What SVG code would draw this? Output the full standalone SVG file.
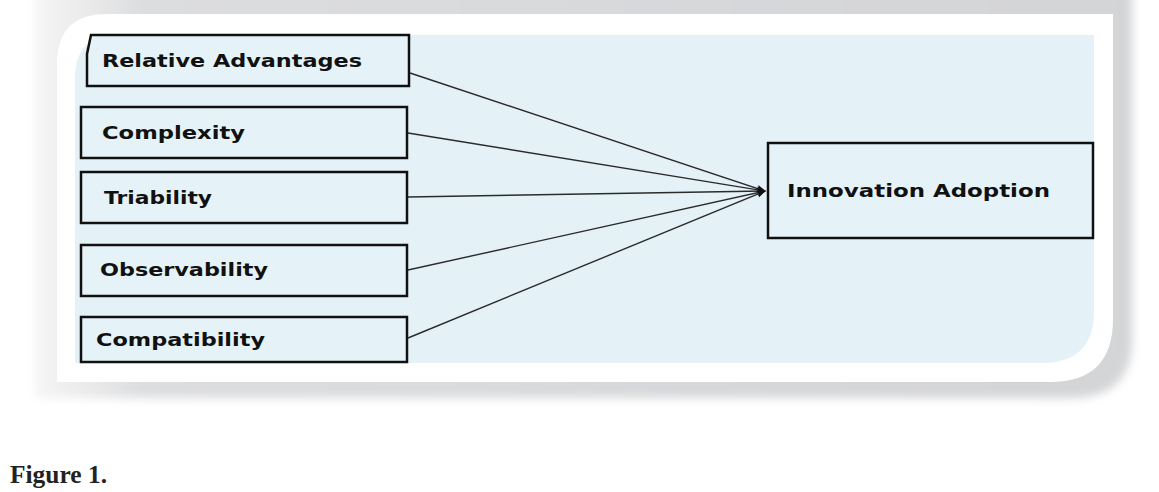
<svg xmlns="http://www.w3.org/2000/svg" width="1159" height="492" viewBox="0 0 1159 492">
  <style>
    .box { fill: #e5f3f8; stroke: #111; stroke-width: 2.5; }
    .lbl { font-family: "DejaVu Sans", Verdana, sans-serif; font-weight: bold; font-size: 17.5px; fill: #111; }
    .conn { stroke: #2b2b2b; stroke-width: 1.4; fill: none; }
  </style>
  <defs>
    <marker id="arr" viewBox="0 0 10 10" refX="9" refY="5" markerWidth="10" markerHeight="9" markerUnits="userSpaceOnUse" orient="auto">
      <path d="M0,1 L10,5 L0,9 L2,5 Z" fill="#111"/>
    </marker>
    <linearGradient id="shg" x1="0" y1="0" x2="1" y2="0">
      <stop offset="0" stop-color="#f6f6f6"/>
      <stop offset="0.04" stop-color="#ececec"/>
      <stop offset="0.1" stop-color="#dcdddf"/>
      <stop offset="1" stop-color="#d3d4d6"/>
    </linearGradient>
    <filter id="blur" x="-5%" y="-10%" width="110%" height="120%">
      <feGaussianBlur stdDeviation="5"/>
    </filter>
  </defs>

  <rect x="0" y="0" width="1159" height="492" fill="#ffffff"/>

  <!-- shadow frame -->
  <path d="M35,-30 H1132 V340 Q1132,398 1070,398 H35 Z" fill="url(#shg)" filter="url(#blur)"/>

  <!-- white panel -->
  <path d="M57,64 Q57,14 107,14 H1113 V319 Q1113,382 1050,382 H57 Z" fill="#ffffff"/>

  <!-- light blue panel -->
  <path d="M75,78 Q75,35 118,35 H1094 V311 Q1094,363 1042,363 H75 Z" fill="#e4f2f8"/>

  <!-- connectors -->
  <g id="connectors">
    <line class="conn" x1="410" y1="73" x2="765" y2="191" marker-end="url(#arr)"/>
    <line class="conn" x1="408" y1="133" x2="765" y2="191" marker-end="url(#arr)"/>
    <line class="conn" x1="408" y1="197" x2="765" y2="191" marker-end="url(#arr)"/>
    <line class="conn" x1="408" y1="270" x2="765" y2="191" marker-end="url(#arr)"/>
    <line class="conn" x1="408" y1="338" x2="765" y2="191" marker-end="url(#arr)"/>
  </g>

  <g id="relative-advantages">
    <path class="box" d="M87,86 V54 L91,35 H409 V86 Z"/>
    <text class="lbl" x="102" y="67" textLength="260" lengthAdjust="spacingAndGlyphs">Relative Advantages</text>
  </g>
  <g id="complexity">
    <rect class="box" x="81" y="107" width="326" height="51"/>
    <text class="lbl" x="102" y="139" textLength="143" lengthAdjust="spacingAndGlyphs">Complexity</text>
  </g>
  <g id="triability">
    <rect class="box" x="81" y="172" width="326" height="51"/>
    <text class="lbl" x="104" y="204" textLength="108" lengthAdjust="spacingAndGlyphs">Triability</text>
  </g>
  <g id="observability">
    <rect class="box" x="81" y="245" width="326" height="51"/>
    <text class="lbl" x="100" y="276" textLength="168" lengthAdjust="spacingAndGlyphs">Observability</text>
  </g>
  <g id="compatibility">
    <rect class="box" x="81" y="317" width="326" height="45"/>
    <text class="lbl" x="96" y="346" textLength="169" lengthAdjust="spacingAndGlyphs">Compatibility</text>
  </g>
  <g id="innovation-adoption">
    <rect class="box" x="768" y="143" width="325" height="95"/>
    <text class="lbl" x="787" y="197" textLength="263" lengthAdjust="spacingAndGlyphs">Innovation Adoption</text>
  </g>

  <text x="10" y="483" font-family="'Liberation Serif', 'DejaVu Serif', serif" font-weight="bold" font-size="25" fill="#222" textLength="97" lengthAdjust="spacingAndGlyphs">Figure 1.</text>
</svg>
